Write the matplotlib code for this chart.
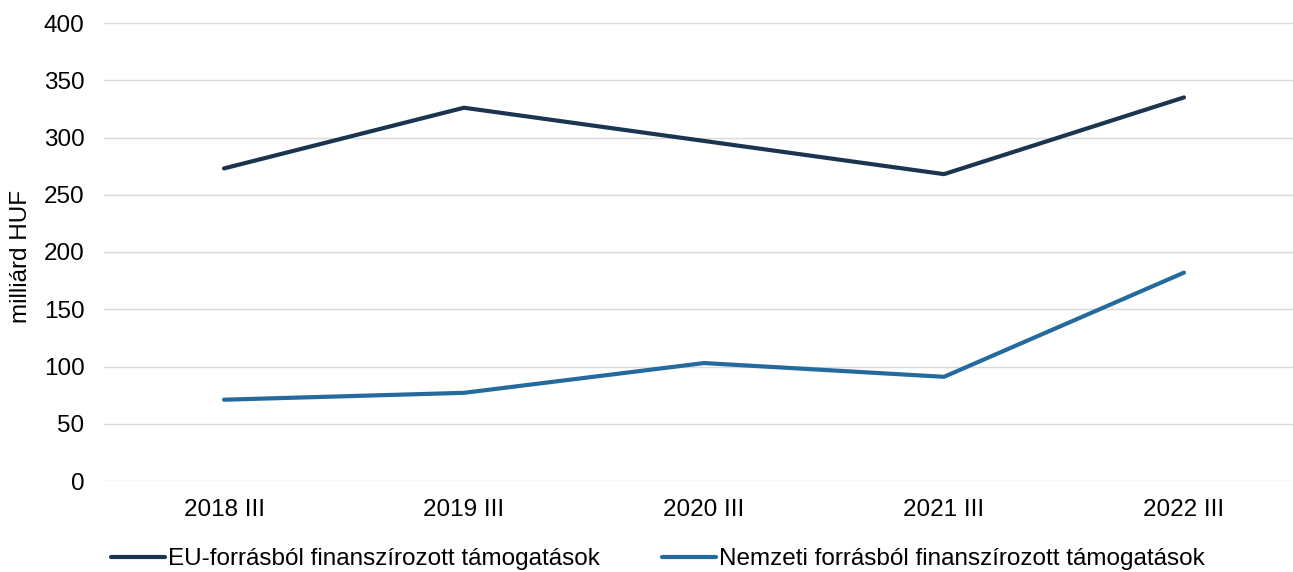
import matplotlib
matplotlib.use("Agg")
import matplotlib.pyplot as plt

categories = ["2018 III", "2019 III", "2020 III", "2021 III", "2022 III"]
eu_values = [273, 326, 297, 268, 335]
nemzeti_values = [71, 77, 103, 91, 182]
series_names = ["EU-forrásból finanszírozott támogatások",
                "Nemzeti forrásból finanszírozott támogatások"]
y_ticks = [0, 50, 100, 150, 200, 250, 300, 350, 400]

plt.rcParams['font.family'] = ['Liberation Sans', 'DejaVu Sans']
FS = 17.5

W, H = 1293, 572
fig = plt.figure(figsize=(W / 100, H / 100), dpi=100)
left, right = 104, 1304
top, bottom = 23, 481
ax = fig.add_axes([left / W, 1 - bottom / H, (right - left) / W, (bottom - top) / H])

x = list(range(len(categories)))
l1, = ax.plot(x, eu_values, color="#1b3550", lw=3.0, solid_capstyle="round")
l2, = ax.plot(x, nemzeti_values, color="#246a9c", lw=3.0, solid_capstyle="round")

ax.set_xlim(-0.5, len(categories) - 0.5)
ax.set_ylim(0, 400)
ax.set_yticks(y_ticks)
ax.set_xticks(x)
ax.set_xticklabels(categories)
ax.grid(axis="y", color="#d9d9d9", lw=1)
ax.set_axisbelow(True)
for s in ax.spines.values():
    s.set_visible(False)
ax.tick_params(axis="both", length=0, labelsize=FS, colors="#000000")
ax.tick_params(axis="y", pad=14)
ax.tick_params(axis="x", pad=13)
ax.set_ylabel("milliárd HUF", fontsize=FS)
ax.yaxis.set_label_coords(-72 / (right - left), 0.49)

fig.legend([l1, l2], series_names, loc="center", bbox_to_anchor=(658 / W, 1 - 559 / H),
           ncol=2, frameon=False, fontsize=FS, handlelength=2.2, handletextpad=0.15,
           columnspacing=2.55, borderpad=0, borderaxespad=0)

fig.savefig("out.png", dpi=100)
